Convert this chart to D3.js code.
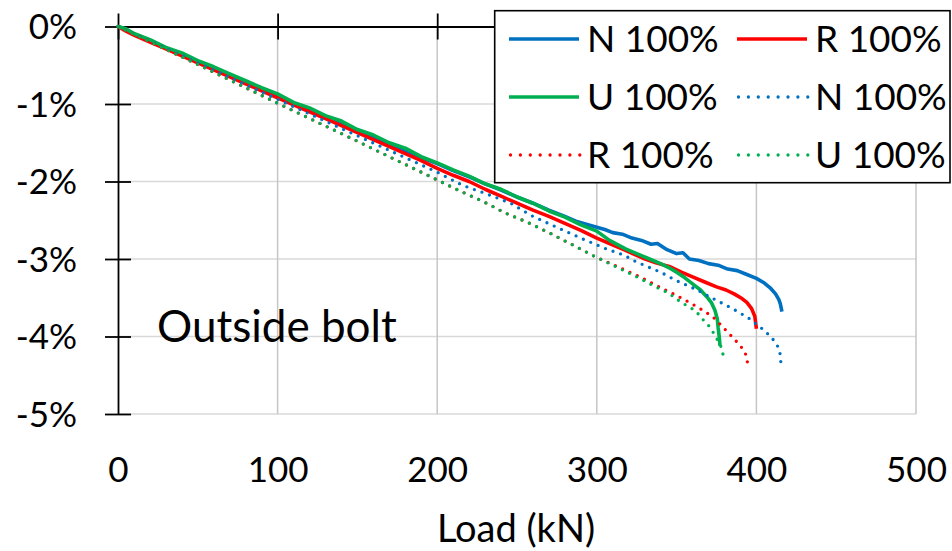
<!DOCTYPE html>
<html>
<head>
<meta charset="utf-8">
<script src="https://cdn.jsdelivr.net/npm/d3@7"></script>
<style>
  html, body { margin: 0; padding: 0; background: #fff; }
  svg { display: block; font-family: Lato, "Open Sans", sans-serif; }
</style>
</head>
<body>
<svg id="chart" width="952" height="551"></svg>
<script>
// Axis ticks
const xTicks = [0, 100, 200, 300, 400, 500];
const yTicks = [0, -1, -2, -3, -4, -5];

// Series: [load (kN), strain (%)]
const nSolid = [[0,0],[5,-0.04],[10,-0.10],[20,-0.18],[30,-0.28],[40,-0.36],[50,-0.46],[60,-0.54],[70,-0.64],[80,-0.72],[90,-0.82],[100,-0.90],[110,-0.99],[120,-1.07],[130,-1.17],[140,-1.25],[150,-1.34],[160,-1.42],[170,-1.52],[180,-1.60],[190,-1.69],[200,-1.77],[210,-1.86],[220,-1.94],[230,-2.03],[240,-2.11],[250,-2.20],[260,-2.28],[270,-2.37],[280,-2.45],[288,-2.52],[295,-2.56],[300,-2.59],[305,-2.62],[310,-2.66],[316,-2.68],[322,-2.73],[328,-2.76],[334,-2.81],[338,-2.80],[344,-2.88],[350,-2.93],[354,-2.92],[358,-3.00],[364,-3.02],[370,-3.06],[376,-3.08],[382,-3.13],[388,-3.15],[394,-3.20],[400,-3.25],[405,-3.31],[409,-3.38],[412,-3.45],[414,-3.52],[415,-3.58],[416,-3.68]];
const rSolid = [[0,0],[5,-0.06],[10,-0.11],[20,-0.20],[30,-0.29],[40,-0.38],[50,-0.47],[60,-0.56],[70,-0.65],[80,-0.74],[90,-0.83],[100,-0.92],[110,-1.01],[120,-1.10],[130,-1.19],[140,-1.28],[150,-1.37],[160,-1.46],[170,-1.55],[180,-1.64],[190,-1.73],[200,-1.83],[210,-1.92],[220,-2.00],[230,-2.10],[240,-2.19],[250,-2.28],[260,-2.37],[270,-2.45],[280,-2.54],[290,-2.63],[300,-2.73],[308,-2.80],[318,-2.89],[329,-2.99],[337,-3.05],[346,-3.10],[353,-3.17],[360,-3.23],[368,-3.30],[375,-3.36],[381,-3.40],[386,-3.45],[391,-3.51],[394,-3.56],[397,-3.64],[399,-3.74],[400,-3.90]];
const uSolid = [[0,0],[5,-0.03],[10,-0.09],[20,-0.17],[30,-0.27],[40,-0.34],[50,-0.44],[60,-0.52],[70,-0.61],[80,-0.70],[90,-0.79],[100,-0.87],[110,-0.98],[120,-1.05],[130,-1.15],[140,-1.22],[150,-1.33],[160,-1.40],[170,-1.50],[180,-1.57],[190,-1.68],[200,-1.76],[210,-1.85],[220,-1.93],[230,-2.03],[240,-2.10],[250,-2.20],[260,-2.28],[270,-2.38],[280,-2.46],[290,-2.56],[300,-2.64],[308,-2.76],[318,-2.87],[325,-2.93],[333,-3.00],[340,-3.06],[345,-3.11],[350,-3.17],[355,-3.24],[360,-3.32],[365,-3.40],[369,-3.49],[372,-3.57],[374,-3.66],[375.5,-3.77],[376,-3.88],[376.7,-4.00],[377.2,-4.12]];
const nDotted = [[0,0],[50,-0.47],[100,-0.94],[150,-1.41],[200,-1.88],[216,-2.05],[231,-2.16],[246,-2.28],[259,-2.44],[277,-2.61],[291,-2.74],[306,-2.87],[317,-2.95],[325,-3.04],[340,-3.17],[350,-3.28],[363,-3.40],[371,-3.49],[385,-3.64],[395,-3.76],[403,-3.89],[409,-4.00],[412,-4.08],[414,-4.15],[415,-4.24],[415.3,-4.33]];
const rDotted = [[0,0],[50,-0.49],[100,-0.99],[150,-1.48],[200,-1.98],[214,-2.12],[229,-2.26],[243,-2.41],[257,-2.53],[271,-2.67],[285,-2.82],[299,-2.97],[312,-3.09],[327,-3.23],[340,-3.37],[350,-3.47],[358,-3.56],[368,-3.68],[374,-3.77],[380,-3.90],[386,-4.03],[390,-4.12],[393,-4.21],[394.3,-4.32],[394.6,-4.43]];
const uDotted = [[0,0],[50,-0.49],[100,-0.99],[150,-1.48],[200,-1.98],[214,-2.12],[229,-2.26],[243,-2.41],[257,-2.53],[271,-2.67],[285,-2.82],[299,-2.97],[312,-3.10],[317,-3.15],[327,-3.25],[335,-3.34],[345,-3.44],[353,-3.56],[362,-3.67],[366,-3.77],[371,-3.88],[375,-4.02],[378,-4.14],[379,-4.22],[379.3,-4.31]];

const seriesNames = ["N 100%", "R 100%", "U 100%", "N 100%", "R 100%", "U 100%"];
const seriesData = [nSolid, rSolid, uSolid, nDotted, rDotted, uDotted];
const seriesColors = ["#0070C0", "#FF0000", "#00B050", "#0070C0", "#FF0000", "#00B050"];
const seriesDotted = [false, false, false, true, true, true];

const svg = d3.select("#chart");
const x = d3.scaleLinear().domain([0, 500]).range([118, 916]);
const y = d3.scaleLinear().domain([0, -5]).range([26.5, 414]);

// Gridlines
svg.append("g").selectAll("line").data(yTicks.filter(d => d !== 0)).join("line")
  .attr("x1", x(0)).attr("x2", x(500))
  .attr("y1", d => y(d)).attr("y2", d => y(d))
  .attr("stroke", "#d9d9d9").attr("stroke-width", 1.5);
svg.append("g").selectAll("line").data(xTicks.filter(d => d !== 0)).join("line")
  .attr("x1", d => x(d)).attr("x2", d => x(d))
  .attr("y1", y(0)).attr("y2", y(-5))
  .attr("stroke", "#c6c6c6").attr("stroke-width", 1.5);

// X axis line along 0% with crossing ticks
const xAxis = svg.append("g").attr("transform", `translate(0,${y(0)})`)
  .call(d3.axisTop(x).tickValues(xTicks).tickFormat("").tickSizeOuter(0).tickSizeInner(13));
xAxis.select(".domain").attr("stroke", "#000").attr("stroke-width", 1.8);
xAxis.selectAll(".tick line").attr("y1", 13).attr("y2", -13).attr("stroke", "#000").attr("stroke-width", 1.8);

// X tick labels below the plot
const xLab = svg.append("g").attr("transform", `translate(0,${y(-5)})`)
  .call(d3.axisBottom(x).tickValues(xTicks).tickSize(0).tickFormat(d => d));
xLab.select(".domain").remove();
xLab.selectAll("text").attr("dy", null).attr("y", 67.5)
  .attr("font-size", 35).attr("font-family", "Lato, 'Open Sans', sans-serif").attr("fill", "#000");

// Y axis with crossing ticks
const yAxis = svg.append("g").attr("transform", `translate(${x(0)},0)`)
  .call(d3.axisLeft(y).tickValues(yTicks).tickSizeOuter(0).tickSizeInner(13).tickFormat(d => `${d}%`));
yAxis.select(".domain").attr("stroke", "#000").attr("stroke-width", 1.8);
yAxis.selectAll(".tick line").attr("x1", -13).attr("x2", 13).attr("stroke", "#000").attr("stroke-width", 1.8);
yAxis.selectAll("text").attr("x", -41).attr("dy", "0.35em")
  .attr("font-size", 35).attr("font-family", "Lato, 'Open Sans', sans-serif").attr("fill", "#000");

// Series lines
const line = d3.line().x(d => x(d[0])).y(d => y(d[1]));
seriesData.forEach((data, i) => {
  const p = svg.append("path").datum(data)
    .attr("d", line)
    .attr("fill", "none")
    .attr("stroke", seriesColors[i])
    .attr("stroke-linejoin", "round");
  if (seriesDotted[i]) {
    p.attr("stroke-width", 3.3).attr("stroke-linecap", "round").attr("stroke-dasharray", "0 8");
  } else {
    p.attr("stroke-width", 3.6).attr("stroke-linecap", "butt");
  }
});

// Annotation
svg.append("text").attr("x", 157).attr("y", 342)
  .attr("font-size", 44).attr("fill", "#000").text("Outside bolt");

// X axis title
svg.append("text").attr("x", 516).attr("y", 542).attr("text-anchor", "middle")
  .attr("font-size", 38).attr("fill", "#000").text("Load (kN)");

// Legend
const legend = svg.append("g");
legend.append("rect").attr("x", 494.7).attr("y", 10.7).attr("width", 455.3).attr("height", 172)
  .attr("fill", "#fff").attr("stroke", "#000").attr("stroke-width", 1.6);
const colX = [509, 737];
const rowY = [39, 97, 155];
seriesNames.forEach((name, i) => {
  const cx = colX[i % 2];
  const cy = rowY[Math.floor(i / 2)];
  const s = legend.append("line").attr("x1", cx).attr("x2", cx + 70).attr("y1", cy).attr("y2", cy)
    .attr("stroke", seriesColors[i]);
  if (seriesDotted[i]) {
    s.attr("stroke-width", 3.3).attr("stroke-linecap", "round").attr("stroke-dasharray", "0 9.9")
      .attr("x1", cx + 1.5).attr("x2", cx + 71.5);
  } else {
    s.attr("stroke-width", 3.6);
  }
  legend.append("text").attr("x", cx + 78).attr("y", cy).attr("dy", "0.36em")
    .attr("font-size", 37).attr("fill", "#000").text(name);
});
</script>
</body>
</html>
